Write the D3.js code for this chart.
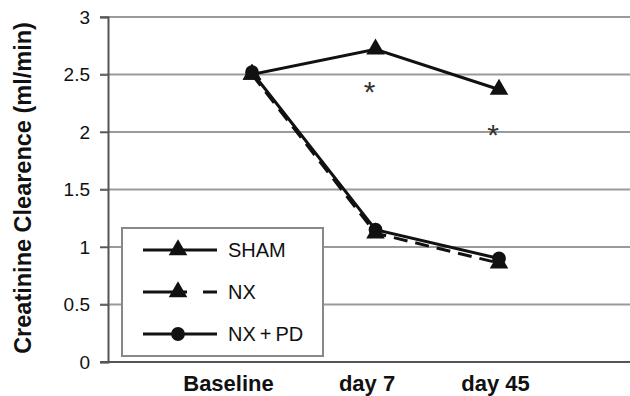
<!DOCTYPE html>
<html>
<head>
<meta charset="utf-8">
<script src="https://cdn.jsdelivr.net/npm/d3@7"></script>
<style>
  body { margin: 0; background: #fff; }
  text { font-family: "Liberation Sans", Arial, sans-serif; }
</style>
</head>
<body>
<div id="chart"></div>
<script>
// data
const categories = ["Baseline", "day 7", "day 45"];
const shamValues = [2.5, 2.72, 2.37];
const nxValues = [2.5, 1.12, 0.86];
const nxpdValues = [2.52, 1.15, 0.9];
const starValues = [null, 2.4, 2.03];
const yTicks = [0, 0.5, 1, 1.5, 2, 2.5, 3];

const width = 630, height = 396;

const svg = d3.select("#chart")
  .append("svg")
  .attr("width", width)
  .attr("height", height);

const x = d3.scalePoint()
  .domain(categories)
  .range([252, 499]);

const y = d3.scaleLinear()
  .domain([0, 3])
  .range([362, 17]);

// gridlines
svg.append("g")
  .selectAll("line")
  .data(yTicks.filter(d => d > 0))
  .enter().append("line")
  .attr("x1", 100).attr("x2", width)
  .attr("y1", d => y(d)).attr("y2", d => y(d))
  .attr("stroke", "#9a9a9a")
  .attr("stroke-width", 2);

// y axis
const yAxis = d3.axisLeft(y)
  .tickValues(yTicks)
  .tickSize(8)
  .tickFormat(d3.format("~g"));

const gy = svg.append("g")
  .attr("transform", "translate(108,0)")
  .call(yAxis);
gy.select(".domain").attr("stroke", "#555").attr("stroke-width", 2);
gy.selectAll(".tick line").attr("stroke", "#555").attr("stroke-width", 1.5);
gy.selectAll(".tick text")
  .attr("x", -18)
  .attr("font-size", 19)
  .attr("fill", "#111");

// x axis line
svg.append("line")
  .attr("x1", 100).attr("x2", width)
  .attr("y1", y(0)).attr("y2", y(0))
  .attr("stroke", "#555")
  .attr("stroke-width", 2);

// x labels
const xAxis = d3.axisBottom(x).tickSize(0).tickPadding(13);
const gx = svg.append("g")
  .attr("transform", "translate(0," + y(0) + ")")
  .call(xAxis);
gx.select(".domain").remove();
gx.selectAll(".tick text")
  .attr("font-size", 22)
  .attr("font-weight", "bold")
  .attr("fill", "#111")
  .attr("dx", (d, i) => i === 0 ? -24 : (i === 1 ? -9 : -4));

// y label
svg.append("text")
  .attr("transform", "translate(31," + 188 + ") rotate(-90)")
  .attr("text-anchor", "middle")
  .attr("font-size", 23.5)
  .attr("font-weight", "bold")
  .attr("fill", "#111")
  .text("Creatinine Clearence (ml/min)");

const line = d3.line()
  .x((d, i) => x(categories[i]))
  .y(d => y(d));

const tri = d3.symbol().type(d3.symbolTriangle).size(150);
const circ = d3.symbol().type(d3.symbolCircle).size(150);

const series = [
  { name: "SHAM", values: shamValues, dash: null, sym: tri },
  { name: "NX", values: nxValues, dash: "14,8", sym: tri },
  { name: "NX+PD", values: nxpdValues, dash: null, sym: circ }
];

series.forEach(s => {
  svg.append("path")
    .datum(s.values)
    .attr("d", line)
    .attr("fill", "none")
    .attr("stroke", "#111")
    .attr("stroke-width", 3)
    .attr("stroke-dasharray", s.dash);
  svg.append("g")
    .selectAll("path")
    .data(s.values)
    .enter().append("path")
    .attr("d", s.sym)
    .attr("transform", (d, i) => "translate(" + x(categories[i]) + "," + y(d) + ")")
    .attr("fill", "#111");
});

// significance stars
svg.append("g")
  .selectAll("text")
  .data(starValues.map((v, i) => ({ v, c: categories[i] })).filter(d => d.v !== null))
  .enter().append("text")
  .attr("x", d => x(d.c) - 6)
  .attr("y", d => y(d.v) + 16)
  .attr("text-anchor", "middle")
  .attr("font-size", 30)
  .attr("fill", "#333")
  .text("*");

// legend
const legend = svg.append("g");
legend.append("rect")
  .attr("x", 122).attr("y", 228)
  .attr("width", 201).attr("height", 128)
  .attr("fill", "#fff")
  .attr("stroke", "#888")
  .attr("stroke-width", 2);

series.forEach((s, i) => {
  const ly = 250 + i * 42;
  legend.append("line")
    .attr("x1", 143).attr("x2", 217)
    .attr("y1", ly).attr("y2", ly)
    .attr("stroke", "#111")
    .attr("stroke-width", 3)
    .attr("stroke-dasharray", s.dash ? "44,16,14" : null);
  legend.append("path")
    .attr("d", s.sym)
    .attr("transform", "translate(178," + ly + ")")
    .attr("fill", "#111");
  legend.append("text")
    .attr("x", 228).attr("y", ly + 7)
    .attr("font-size", 20)
    .attr("fill", "#111")
    .text(s.name === "NX+PD" ? "NX\u2009+\u2009PD" : s.name);
});
</script>
</body>
</html>
